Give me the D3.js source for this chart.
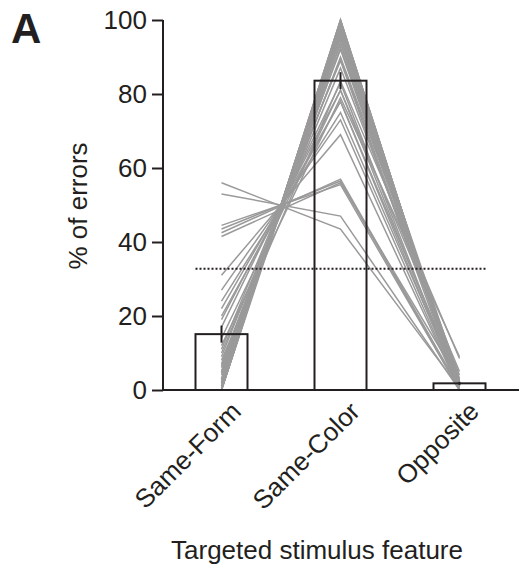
<!DOCTYPE html>
<html>
<head>
<meta charset="utf-8">
<script src="https://cdn.jsdelivr.net/npm/d3@7"></script>
<style>
  body { margin: 0; background: #fff; }
  text { font-family: "Liberation Sans", Arial, sans-serif; fill: #231f20; }
</style>
</head>
<body>
<div id="chart"></div>
<script>
// categories and group means (bars) with s.e.m.
var categories = ['Same-Form', 'Same-Color', 'Opposite'];
var barMeans = [15.1, 83.6, 1.8];
var barSem = [2.3, 2.3, 0.4];
var chanceLevel = 32.8;
var yTicks = [0, 20, 40, 60, 80, 100];

// individual subjects: % of errors per category
var sameForm  = [56, 53, 44.5, 43.5, 42.5, 41.5, 31, 27, 24, 22, 20, 19, 17, 14, 12, 11, 10, 9, 8, 7, 6, 5, 4.5, 4, 3, 2.5, 2, 1.5, 1, 1, 0.5, 0.5, 0, 0, 0, 0, 0, 0, 1, 2, 3, 5, 6.5];
var opposite  = [0.5, 0, 0, 0, 0.5, 2.5, 0, 0, 1, 0, 2, 0, 0, 5, 9, 0, 3, 1.5, 8.5, 1, 4, 2.5, 0, 2, 1.5, 0, 2, 0, 1, 0, 2, 0, 3, 0, 1, 0, 0, 0.5, 0, 0, 1, 0, 0];
var sameColor = sameForm.map((d, i) => 100 - d - opposite[i]);

var width = 520, height = 574;
var fontSize = '26px';

var svg = d3.select('#chart').append('svg')
    .attr('width', width)
    .attr('height', height);

var x = d3.scalePoint()
    .domain(categories)
    .range([162, 519])
    .padding(0.5);

var y = d3.scaleLinear()
    .domain([0, 100])
    .range([390, 20]);

var barWidth = 52;

// subject lines
var line = d3.line()
    .x(d => x(d.cat))
    .y(d => y(d.v));

sameForm.forEach(function(d, i) {
    var pts = [
        {cat: categories[0], v: sameForm[i]},
        {cat: categories[1], v: sameColor[i]},
        {cat: categories[2], v: opposite[i]}
    ];
    svg.append('path')
        .attr('d', line(pts))
        .attr('fill', 'none')
        .attr('stroke', '#9a9a9a')
        .attr('stroke-width', 1.5);
});

// chance level (dotted)
svg.append('line')
    .attr('x1', x(categories[0]) - barWidth / 2)
    .attr('x2', x(categories[2]) + barWidth / 2)
    .attr('y1', y(chanceLevel))
    .attr('y2', y(chanceLevel))
    .attr('stroke', '#231f20')
    .attr('stroke-width', 2)
    .attr('stroke-dasharray', '2,2');

// bars (outline only)
svg.selectAll('rect.bar')
    .data(categories)
    .enter()
    .append('rect')
    .attr('class', 'bar')
    .attr('x', d => x(d) - barWidth / 2)
    .attr('y', (d, i) => y(barMeans[i]))
    .attr('width', barWidth)
    .attr('height', (d, i) => y(0) - y(barMeans[i]))
    .attr('fill', 'none')
    .attr('stroke', '#231f20')
    .attr('stroke-width', 2);

// error bars
svg.selectAll('line.err')
    .data(categories)
    .enter()
    .append('line')
    .attr('class', 'err')
    .attr('x1', d => x(d))
    .attr('x2', d => x(d))
    .attr('y1', (d, i) => y(barMeans[i] + barSem[i]))
    .attr('y2', (d, i) => y(barMeans[i] - barSem[i]))
    .attr('stroke', '#231f20')
    .attr('stroke-width', 2);

// y axis
var yAxis = svg.append('g')
    .attr('transform', 'translate(163,0)')
    .call(d3.axisLeft(y).tickValues(yTicks).tickSize(11).tickPadding(5));
yAxis.select('.domain').attr('stroke', '#231f20').attr('stroke-width', 2)
    .attr('d', 'M0,' + y(100) + 'V' + y(0));
yAxis.selectAll('.tick line').attr('stroke', '#231f20').attr('stroke-width', 2);
yAxis.selectAll('.tick text').style('font-size', fontSize).attr('fill', '#231f20')
    .attr('font-family', '"Liberation Sans", Arial, sans-serif');

// x axis
svg.append('line')
    .attr('x1', 162).attr('x2', 519)
    .attr('y1', y(0)).attr('y2', y(0))
    .attr('stroke', '#231f20')
    .attr('stroke-width', 2);

svg.selectAll('text.xlab')
    .data(categories)
    .enter()
    .append('text')
    .attr('class', 'xlab')
    .attr('text-anchor', 'end')
    .attr('transform', d => 'translate(' + (x(d) + 21) + ',' + 413 + ') rotate(-45)')
    .style('font-size', fontSize)
    .text(d => d);

// axis titles
svg.append('text')
    .attr('text-anchor', 'middle')
    .attr('transform', 'translate(87,' + 206 + ') rotate(-90)')
    .style('font-size', fontSize)
    .text('% of errors');

svg.append('text')
    .attr('text-anchor', 'middle')
    .attr('x', 317)
    .attr('y', 559)
    .style('font-size', fontSize)
    .text('Targeted stimulus feature');

// panel label
svg.append('text')
    .attr('x', 11)
    .attr('y', 43)
    .style('font-size', '42px')
    .style('font-weight', 'bold')
    .text('A');
</script>
</body>
</html>
